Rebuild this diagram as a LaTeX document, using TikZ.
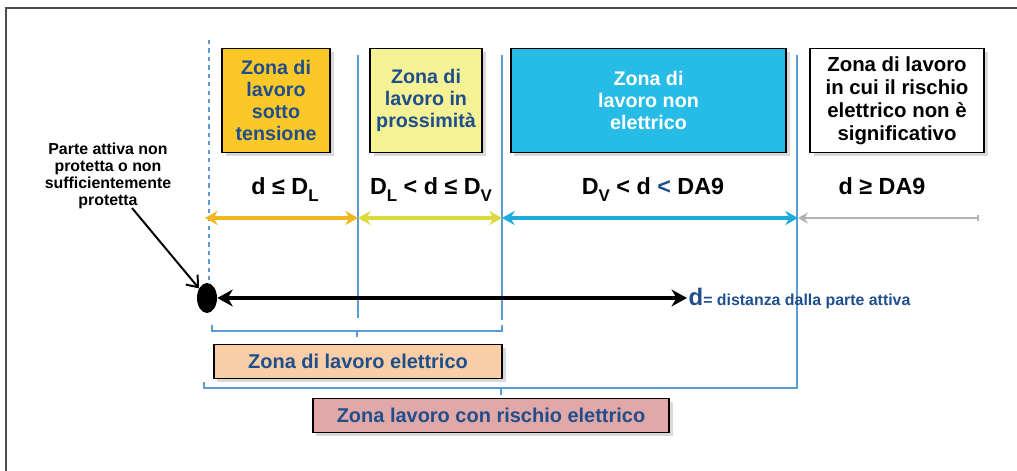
\documentclass[tikz,border=0pt]{standalone}
\usepackage{fontspec}
\setmainfont{Liberation Sans}
\usetikzlibrary{arrows.meta,shapes.geometric,shadows}

\definecolor{zonablue}{RGB}{31,78,140}
\definecolor{tensione}{RGB}{252,200,40}
\definecolor{prossimita}{RGB}{245,242,150}
\definecolor{nonelettr}{RGB}{38,188,230}
\definecolor{elettrico}{RGB}{249,206,166}
\definecolor{rischio}{RGB}{226,168,168}
\definecolor{guide}{RGB}{91,155,213}
\definecolor{arrowA}{RGB}{240,182,30}
\definecolor{arrowB}{RGB}{218,218,60}
\definecolor{arrowC}{RGB}{30,172,222}

\newcommand{\lowsub}[1]{\raisebox{-0.55ex}{\fontsize{12}{12}\selectfont #1}}

\tikzset{
  zone/.style={draw=black, line width=1.3pt, minimum height=2.6cm, align=center,
    font=\bfseries\fontsize{14}{15.6}\selectfont, text=zonablue,
    drop shadow={opacity=0.3, shadow xshift=2.5pt, shadow yshift=-2.5pt}},
  band/.style={draw=black, line width=1.3pt, minimum height=0.85cm,
    font=\bfseries\fontsize{14.2}{16}\selectfont, text=zonablue,
    drop shadow={opacity=0.3, shadow xshift=2.5pt, shadow yshift=-2.5pt}},
  cond/.style={font=\bfseries\fontsize{16.6}{18}\selectfont, anchor=base},
  rangearrow/.style={line width=2.6pt, {Stealth[length=9pt,width=10pt]}-{Stealth[length=9pt,width=10pt]}},
  guideline/.style={guide, line width=0.8pt},
  bracket/.style={guide, line width=1pt}
}

\begin{document}
\begin{tikzpicture}[x=0.025cm, y=-0.025cm]
  \useasboundingbox (0,0) rectangle (1017,471);
  \draw[gray!60!black, line width=0.8pt] (6,471) -- (6,8) -- (1017,8);

  % zone boundaries
  \draw[guideline, dashed] (209,40) -- (209,298);
  \draw[guideline] (358,55) -- (358,318);
  \draw[guideline] (502,55) -- (502,320);
  \draw[guideline] (797,55) -- (797,380);

  % the zones
  \node[zone, fill=tensione, minimum width=2.7cm] (ztens) at (276,100.5) {Zona di\\lavoro\\sotto\\tensione};
  \node[zone, fill=prossimita, minimum width=2.8cm] (zpross) at (426,100.5) {Zona di\\lavoro in\\prossimità};
  \node[zone, fill=nonelettr, minimum width=6.875cm, text=white] (znonel) at (648.5,100.5) {Zona di\\lavoro non\\elettrico};
  \node[zone, fill=white, minimum width=4.35cm, text=black, font=\bfseries\fontsize{14.5}{16.4}\selectfont] (zsign) at (897,100.5) {Zona di lavoro\\in cui il rischio\\elettrico non è\\significativo};

  % distance conditions
  \node[cond] (cA) at (285,195) {d ≤ D\lowsub{L}};
  \node[cond] (cB) at (431,195) {D\lowsub{L} < d ≤ D\lowsub{V}};
  \node[cond] (cC) at (653,195) {D\lowsub{V} < d \textcolor{zonablue}{<} DA9};
  \node[cond] (cD) at (882,195) {d ≥ DA9};

  \coordinate (r0) at (205,218);
  \coordinate (r1) at (358,218);
  \coordinate (r2) at (502,218);
  \coordinate (r3) at (798,218);
  \coordinate (r4) at (979,218);
  \draw[rangearrow, arrowA] (r0) -- (r1);
  \draw[rangearrow, arrowB] (r1) -- (r2);
  \draw[rangearrow, arrowC] (r2) -- (r3);
  \draw[gray!60, line width=1.4pt, {Stealth[length=7pt,width=8pt]}-{Bar[width=4pt]}] (r3) -- (r4);

  % live part and distance
  \node[ellipse, fill=black, minimum width=0.5cm, minimum height=0.75cm, inner sep=0pt] (live) at (207,298) {};
  \coordinate (dend) at (687,298);
  \draw[line width=3pt, {Stealth[length=11pt,width=12pt]}-{Stealth[length=11pt,width=12pt]}] (live) -- (dend);
  \node[anchor=west, text=zonablue, inner sep=1pt, font=\bfseries\fontsize{11.3}{12}\selectfont] (dlabel) at (dend) {{\fontsize{17}{17}\selectfont d}= distanza dalla parte attiva};

  \node[align=center, font=\bfseries\fontsize{11.3}{12.1}\selectfont] (parte) at (108,176) {Parte attiva non\\protetta o non\\sufficientemente\\protetta};
  \coordinate (ptail) at (132,208);
  \draw[line width=1.4pt, -{Straight Barb[length=7pt,width=11pt]}] (ptail) -- (live);

  % brackets
  \draw[bracket] (212,325) -- (212,331) -- (502,331) -- (502,325);
  \draw[bracket] (357,331) -- (357,337);
  \draw[bracket] (204,382) -- (204,388) -- (797,388) -- (797,380);
  \draw[bracket] (501,388) -- (501,395);

  \node[band, fill=elettrico, minimum width=7.2cm] (zel) at (358,361.5) {Zona di lavoro elettrico};
  \node[band, fill=rischio, minimum width=8.9cm] (zris) at (491,415.5) {Zona lavoro con rischio elettrico};
\end{tikzpicture}
\end{document}
